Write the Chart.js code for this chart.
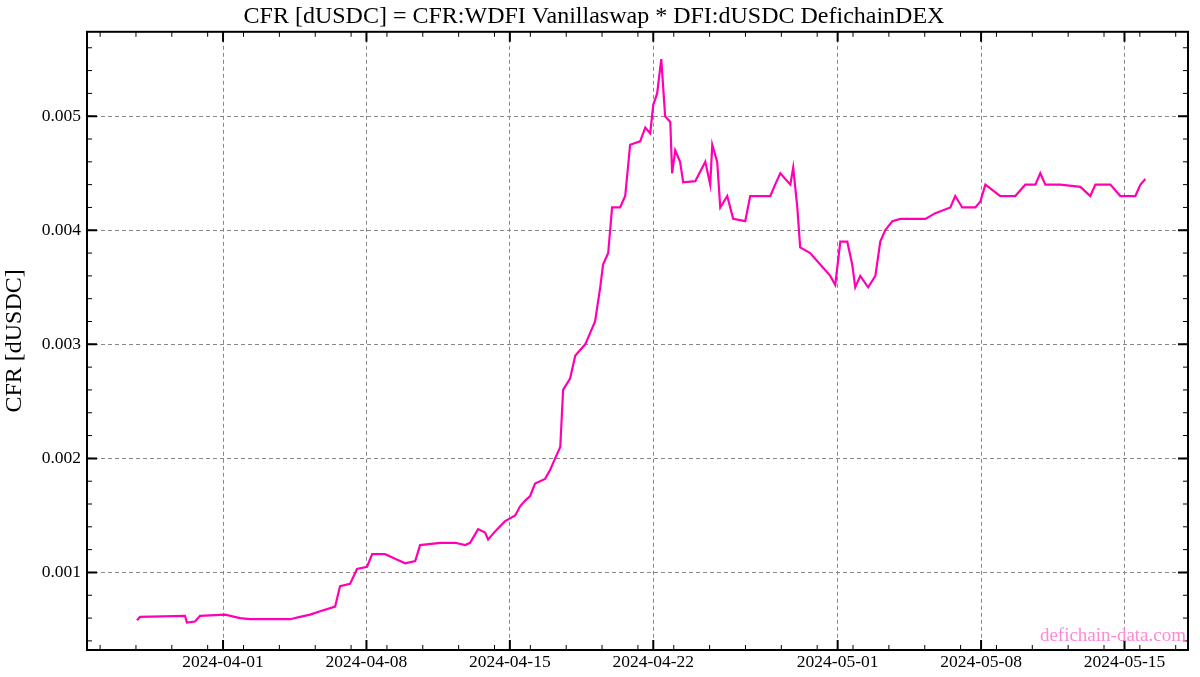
<!DOCTYPE html>
<html><head><meta charset="utf-8">
<script src="https://cdn.jsdelivr.net/npm/chart.js@4/dist/chart.umd.min.js"></script>
<style>html,body{margin:0;padding:0;background:#fff}#w{width:1200px;height:677px}</style>
</head><body><div id="w"><canvas id="c"></canvas></div>
<script>
// days since 2024-04-01
const dayOffsets = [-4.20,-4.05,-1.86,-1.76,-1.37,-1.12,0.10,0.83,1.32,3.27,3.76,4.25,4.74,5.47,5.71,6.20,6.54,7.03,7.28,7.91,8.40,8.89,9.38,9.62,10.60,11.33,11.82,12.06,12.45,12.79,12.94,13.28,13.77,14.26,14.50,14.75,14.99,15.23,15.72,15.97,16.21,16.46,16.60,16.94,17.19,17.43,17.68,17.92,18.16,18.41,18.55,18.80,18.99,19.38,19.63,19.87,20.36,20.61,20.85,21.00,21.19,21.39,21.58,21.83,21.92,22.07,22.31,22.46,23.05,23.54,23.78,23.88,24.12,24.27,24.61,24.90,25.49,25.73,26.22,26.71,26.95,27.20,27.69,27.83,28.03,28.17,28.66,29.15,29.64,29.88,30.13,30.47,30.71,30.86,31.10,31.49,31.84,32.08,32.32,32.67,33.06,34.28,34.77,35.50,35.74,36.08,36.72,36.96,37.21,37.94,38.67,39.16,39.65,39.89,40.14,40.87,41.85,42.33,42.58,43.31,43.80,44.53,44.78,45.02];
const cfrValues = [0.00058,0.00061,0.00062,0.00056,0.00057,0.00062,0.00063,0.0006,0.00059,0.00059,0.00061,0.00063,0.00066,0.0007,0.00088,0.0009,0.00103,0.00105,0.00116,0.00116,0.00112,0.00108,0.0011,0.00124,0.00126,0.00126,0.00124,0.00126,0.00138,0.00135,0.00129,0.00136,0.00145,0.0015,0.00158,0.00163,0.00167,0.00178,0.00182,0.0019,0.002,0.0021,0.0026,0.0027,0.0029,0.00295,0.003,0.0031,0.0032,0.0035,0.0037,0.0038,0.0042,0.0042,0.0043,0.00475,0.00478,0.0049,0.00485,0.0051,0.0052,0.0055,0.0050,0.00495,0.0045,0.0047,0.0046,0.00442,0.00443,0.0046,0.0044,0.00475,0.0046,0.0042,0.0043,0.0041,0.00408,0.0043,0.0043,0.0043,0.0044,0.0045,0.0044,0.00455,0.0042,0.00385,0.0038,0.0037,0.0036,0.00352,0.0039,0.0039,0.0037,0.0035,0.0036,0.0035,0.0036,0.0039,0.0040,0.00408,0.0041,0.0041,0.00415,0.0042,0.0043,0.0042,0.0042,0.00425,0.0044,0.0043,0.0043,0.0044,0.0044,0.0045,0.0044,0.0044,0.00438,0.0043,0.0044,0.0044,0.0043,0.0043,0.0044,0.00445];
const xTickLabels = ['2024-04-01','2024-04-08','2024-04-15','2024-04-22','2024-05-01','2024-05-08','2024-05-15'];
const yTickValues = [0.001,0.002,0.003,0.004,0.005];

const base = Date.UTC(2024,3,1);
const xTickDays = xTickLabels.map(s => (Date.parse(s+'T00:00:00Z') - base) / 86400000);
const pts = dayOffsets.map((d,i) => ({x:d, y:cfrValues[i]}));
const serif = "'Liberation Serif', 'DejaVu Serif', serif";

const deco = {
  id:'deco',
  afterDraw(ch){
    const c = ch.ctx, a = ch.chartArea, xs = ch.scales.x, ys = ch.scales.y;
    c.save();
    c.strokeStyle = '#000';
    c.lineWidth = 1;
    for (let v = 0.0002; v < 0.0058; v += 0.0002) {
      const y = ys.getPixelForValue(v);
      if (y < a.top || y > a.bottom) continue;
      c.beginPath(); c.moveTo(a.left,y); c.lineTo(a.left+5,y); c.moveTo(a.right,y); c.lineTo(a.right-5,y); c.stroke();
    }
    for (let d = -6; d < 48; d += 1.75) {
      const x = xs.getPixelForValue(d);
      if (x < a.left || x > a.right) continue;
      c.beginPath(); c.moveTo(x,a.bottom); c.lineTo(x,a.bottom-5); c.moveTo(x,a.top); c.lineTo(x,a.top+5); c.stroke();
    }
    c.lineWidth = 2;
    yTickValues.forEach(v => { const y = ys.getPixelForValue(v);
      c.beginPath(); c.moveTo(a.left,y); c.lineTo(a.left+10,y); c.moveTo(a.right,y); c.lineTo(a.right-10,y); c.stroke(); });
    xTickDays.forEach(d => { const x = xs.getPixelForValue(d);
      c.beginPath(); c.moveTo(x,a.bottom); c.lineTo(x,a.bottom-10); c.moveTo(x,a.top); c.lineTo(x,a.top+10); c.stroke(); });
    c.strokeRect(a.left, a.top, a.right-a.left, a.bottom-a.top);
    c.fillStyle = '#ff88d4';
    c.font = "19px " + serif;
    c.textAlign = 'right'; c.textBaseline = 'bottom';
    c.fillText('defichain-data.com', a.right-2, a.bottom-4);
    c.restore();
  }
};

new Chart(document.getElementById('c'), {
  type:'line',
  data:{datasets:[{data:pts, borderColor:'#ff00b4', borderWidth:2.2, pointRadius:0, tension:0, fill:false}]},
  options:{
    responsive:true, maintainAspectRatio:false, animation:false,
    layout:{padding:{left:0,right:12,top:0,bottom:0}},
    plugins:{legend:{display:false}, tooltip:{enabled:false},
      title:{display:true, text:'CFR [dUSDC] = CFR:WDFI Vanillaswap * DFI:dUSDC DefichainDEX',
        color:'#000', font:{family:serif, size:24, weight:'normal'}, padding:{top:2,bottom:1}}},
    scales:{
      x:{type:'linear', min:-6.64, max:47.1,
        afterBuildTicks(s){ s.ticks = xTickDays.map(v=>({value:v})); },
        afterFit(s){ s.height = 27; },
        ticks:{autoSkip:false, maxRotation:0, color:'#000', font:{family:serif,size:17.5}, padding:2,
          callback:(v)=>{ const i = xTickDays.indexOf(v); return i>=0 ? xTickLabels[i] : ''; }},
        grid:{color:'#888', lineWidth:1, tickLength:0, drawTicks:false},
        border:{display:false, dash:[4,3]}},
      y:{min:0.00032, max:0.00574,
        afterBuildTicks(s){ s.ticks = yTickValues.map(v=>({value:v})); },
        afterFit(s){ s.width = 87; },
        ticks:{color:'#000', font:{family:serif,size:17.5}, padding:6, callback:(v)=>Number(v).toFixed(3)},
        title:{display:true, text:'CFR [dUSDC]', color:'#000', font:{family:serif,size:24}, padding:{top:0,bottom:2}},
        grid:{color:'#888', lineWidth:1, tickLength:0, drawTicks:false},
        border:{display:false, dash:[4,3]}}
    }
  },
  plugins:[deco]
});
</script></body></html>
